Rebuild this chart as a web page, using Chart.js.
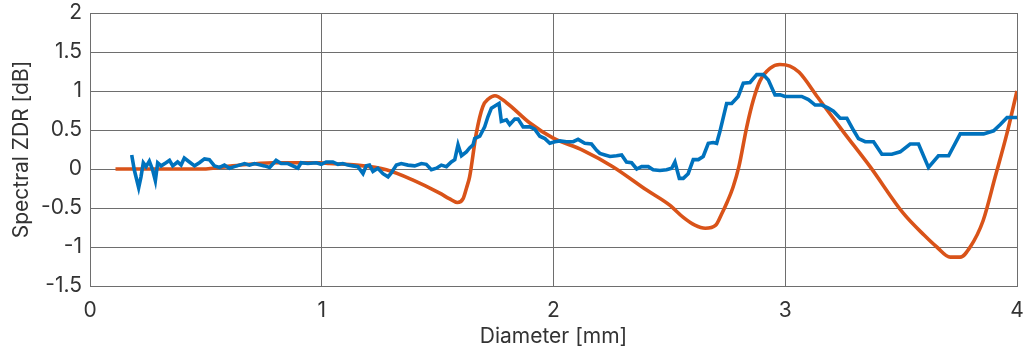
<!DOCTYPE html>
<html>
<head>
<meta charset="utf-8">
<script src="https://cdn.jsdelivr.net/npm/chart.js@4.4.1/dist/chart.umd.min.js"></script>
<style>
  html, body { margin: 0; padding: 0; background: #ffffff; }
  #wrap { width: 1023px; height: 349px; position: relative; }
</style>
</head>
<body>
<div id="wrap"><canvas id="c"></canvas></div>
<script>
// ---- data ----
const xTicks = [0, 1, 2, 3, 4];
const yTicks = [-1.5, -1, -0.5, 0, 0.5, 1, 1.5, 2];

const measuredX = [
  0.180, 0.191, 0.210, 0.220, 0.230, 0.242, 0.256, 0.270, 0.282, 0.292,
  0.307, 0.328, 0.343, 0.357, 0.378, 0.393, 0.407, 0.429, 0.451, 0.472,
  0.494, 0.515, 0.537, 0.559, 0.580, 0.602, 0.623, 0.645, 0.667, 0.688,
  0.710, 0.753, 0.775, 0.803, 0.825, 0.854, 0.897, 0.911, 0.940, 0.976,
  0.998, 1.019, 1.048, 1.070, 1.091, 1.113, 1.134, 1.156, 1.178, 1.192,
  1.206, 1.221, 1.242, 1.264, 1.286, 1.300, 1.322, 1.343, 1.372, 1.401,
  1.430, 1.451, 1.473, 1.495, 1.516, 1.538, 1.559, 1.574, 1.588, 1.603,
  1.624, 1.638, 1.653, 1.660, 1.682, 1.703, 1.717, 1.732, 1.754, 1.765,
  1.775, 1.797, 1.811, 1.833, 1.847, 1.869, 1.898, 1.919, 1.941, 1.963,
  1.984, 2.006, 2.027, 2.056, 2.085, 2.106, 2.135, 2.164, 2.186, 2.200,
  2.222, 2.244, 2.272, 2.294, 2.315, 2.337, 2.359, 2.380, 2.409, 2.430,
  2.459, 2.488, 2.510, 2.524, 2.543, 2.560, 2.581, 2.603, 2.625, 2.646,
  2.668, 2.689, 2.704, 2.718, 2.747, 2.769, 2.797, 2.819, 2.848, 2.877,
  2.905, 2.927, 2.956, 2.978, 2.999, 3.028, 3.071, 3.100, 3.129, 3.158,
  3.186, 3.208, 3.237, 3.266, 3.294, 3.316, 3.345, 3.381, 3.417, 3.460,
  3.496, 3.539, 3.575, 3.618, 3.661, 3.705, 3.755, 3.806, 3.856, 3.899,
  3.928, 3.957, 4.000
];
const measuredY = [
  0.18, -0.01, -0.24, -0.10, 0.08, 0.03, 0.10, -0.01, -0.15, 0.08,
  0.04, 0.08, 0.11, 0.04, 0.09, 0.05, 0.14, 0.09, 0.04, 0.08,
  0.13, 0.12, 0.04, 0.02, 0.05, 0.01, 0.03, 0.05, 0.07, 0.05,
  0.07, 0.04, 0.02, 0.11, 0.07, 0.07, 0.01, 0.08, 0.07, 0.08,
  0.06, 0.09, 0.09, 0.06, 0.07, 0.05, 0.04, 0.03, -0.06, 0.04,
  0.05, -0.03, 0.01, -0.06, -0.10, -0.05, 0.05, 0.07, 0.05, 0.04,
  0.07, 0.06, -0.01, 0.01, 0.05, 0.03, 0.09, 0.12, 0.31, 0.17,
  0.22, 0.27, 0.31, 0.39, 0.42, 0.54, 0.67, 0.78, 0.82, 0.84,
  0.61, 0.63, 0.57, 0.64, 0.64, 0.54, 0.54, 0.51, 0.42, 0.39,
  0.33, 0.35, 0.36, 0.35, 0.35, 0.38, 0.33, 0.32, 0.24, 0.20,
  0.18, 0.16, 0.17, 0.18, 0.09, 0.08, 0.00, 0.03, 0.03, -0.01,
  -0.02, -0.01, 0.01, 0.09, -0.12, -0.12, -0.06, 0.12, 0.12, 0.16,
  0.33, 0.34, 0.33, 0.48, 0.84, 0.84, 0.93, 1.10, 1.11, 1.21,
  1.21, 1.14, 0.95, 0.95, 0.93, 0.93, 0.93, 0.89, 0.82, 0.82,
  0.78, 0.74, 0.65, 0.65, 0.50, 0.39, 0.35, 0.35, 0.19, 0.19,
  0.22, 0.32, 0.32, 0.02, 0.17, 0.17, 0.45, 0.45, 0.45, 0.49,
  0.57, 0.66, 0.66
];

const modelX = [
  0.11, 0.30, 0.485, 0.615, 0.79, 0.99, 1.034, 1.15, 1.279, 1.392,
  1.509, 1.55, 1.585, 1.61, 1.625, 1.638, 1.667, 1.695, 1.72, 1.747,
  1.797, 1.898, 1.997, 2.127, 2.256, 2.402, 2.50, 2.56, 2.61, 2.655,
  2.70, 2.725, 2.75, 2.775, 2.80, 2.834, 2.862, 2.891, 2.934, 2.977,
  3.02, 3.06, 3.14, 3.25, 3.366, 3.51, 3.60, 3.654, 3.712, 3.755,
  3.798, 3.854, 3.906, 3.957, 4.0
];
const modelY = [
  0.00, 0.00, 0.00, 0.04, 0.08, 0.08, 0.07, 0.05, -0.01, -0.14,
  -0.31, -0.38, -0.43, -0.38, -0.24, -0.10, 0.46, 0.80, 0.90, 0.94,
  0.85, 0.59, 0.40, 0.24, 0.03, -0.27, -0.46, -0.62, -0.72, -0.76,
  -0.72, -0.58, -0.42, -0.23, 0.03, 0.54, 0.88, 1.13, 1.29, 1.34,
  1.32, 1.24, 0.92, 0.48, 0.03, -0.57, -0.85, -1.0, -1.13, -1.13,
  -1.0, -0.66, -0.10, 0.46, 1.0
];

const measuredPts = measuredX.map((x, i) => ({ x: x, y: measuredY[i] }));
const modelPts = modelX.map((x, i) => ({ x: x, y: modelY[i] }));

const fontFamily = 'Inter, "Liberation Sans", Arial, sans-serif';
const fontSize = 21;
const textColor = '#333333';
const gridColor = '#6e6e6e';

new Chart(document.getElementById('c'), {
  type: 'line',
  data: {
    datasets: [
      {
        label: 'Measured',
        data: measuredPts,
        borderColor: '#0072BD',
        borderWidth: 3.6,
        pointRadius: 0,
        tension: 0,
        fill: false
      },
      {
        label: 'Model',
        data: modelPts,
        borderColor: '#D95319',
        borderWidth: 3.6,
        pointRadius: 0,
        cubicInterpolationMode: 'monotone',
        fill: false
      }
    ]
  },
  options: {
    responsive: true,
    maintainAspectRatio: false,
    animation: false,
    layout: { padding: { top: 13, right: 6, bottom: 0, left: 0 } },
    plugins: {
      legend: { display: false },
      tooltip: { enabled: false }
    },
    scales: {
      x: {
        type: 'linear',
        min: 0,
        max: 4,
        afterBuildTicks: s => { s.ticks = xTicks.map(v => ({ value: v })); },
        afterFit: s => { s.height = 63; s.paddingLeft = 0; s.paddingRight = 0; },
        grid: { color: gridColor, lineWidth: 1, drawTicks: false },
        border: { color: gridColor, width: 1 },
        ticks: {
          color: textColor,
          padding: 12,
          maxRotation: 0,
          font: { family: fontFamily, size: fontSize },
          callback: v => String(v)
        },
        title: {
          display: true,
          text: 'Diameter [mm]',
          color: textColor,
          font: { family: fontFamily, size: fontSize },
          padding: { top: 0, bottom: 0 }
        }
      },
      y: {
        type: 'linear',
        min: -1.5,
        max: 2,
        afterBuildTicks: s => { s.ticks = yTicks.map(v => ({ value: v })); },
        afterFit: s => { s.width = 90; s.paddingTop = 0; s.paddingBottom = 0; },
        grid: { color: gridColor, lineWidth: 1, drawTicks: false },
        border: { color: gridColor, width: 1 },
        ticks: {
          color: textColor,
          padding: 8,
          font: { family: fontFamily, size: fontSize },
          callback: v => String(v)
        },
        title: {
          display: true,
          text: 'Spectral ZDR [dB]',
          color: textColor,
          font: { family: fontFamily, size: fontSize },
          padding: { top: 9, bottom: 0 }
        }
      }
    }
  }
});
</script>
</body>
</html>
